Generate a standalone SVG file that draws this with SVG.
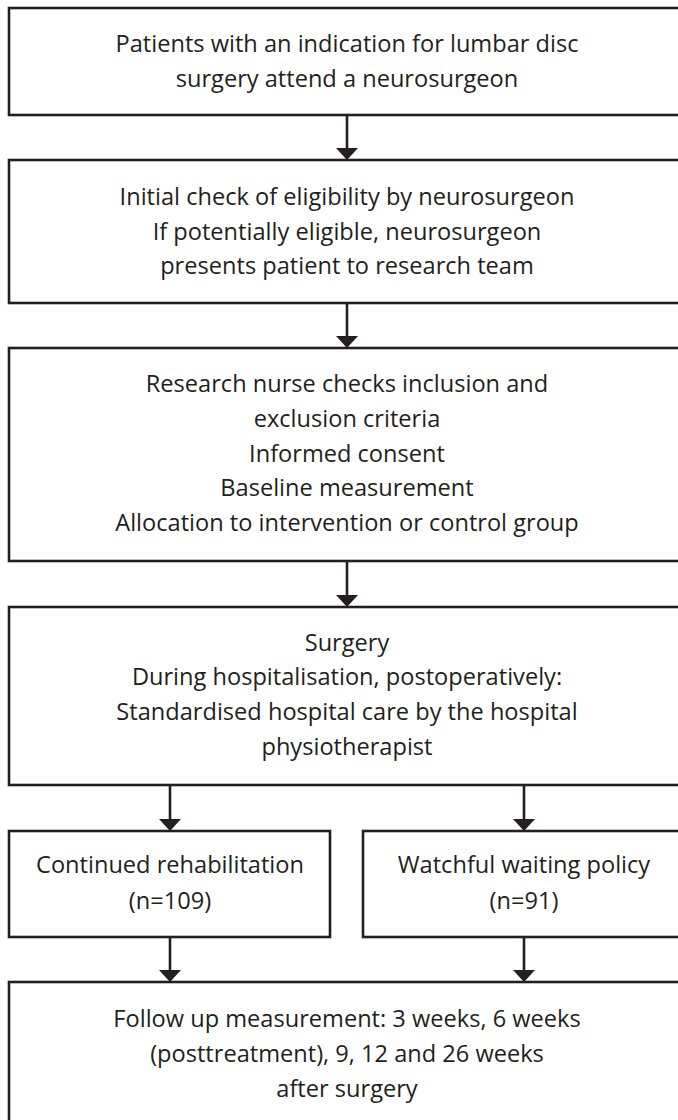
<svg xmlns="http://www.w3.org/2000/svg" width="678" height="1120" viewBox="0 0 678 1120">
<style>
.box{fill:#ffffff;stroke:#231f20;stroke-width:2.6}
.t{font-family:"Open Sans","Liberation Sans",sans-serif;font-size:23.6px;fill:#231f20;text-anchor:middle}
.ln{stroke:#231f20;stroke-width:2.6;fill:none}
.ah{fill:#231f20}
</style>
<rect width="678" height="1120" fill="#ffffff"/>
<g id="connectors">
<line class="ln" x1="347" y1="115" x2="347" y2="150"/><polygon class="ah" points="336,148 358,148 347,160"/>
<line class="ln" x1="347" y1="303" x2="347" y2="338"/><polygon class="ah" points="336,336 358,336 347,348"/>
<line class="ln" x1="347" y1="561" x2="347" y2="597"/><polygon class="ah" points="336,595 358,595 347,607"/>
<line class="ln" x1="170" y1="785" x2="170" y2="821"/><polygon class="ah" points="159,819 181,819 170,831"/>
<line class="ln" x1="524" y1="785" x2="524" y2="821"/><polygon class="ah" points="513,819 535,819 524,831"/>
<line class="ln" x1="170" y1="937" x2="170" y2="972"/><polygon class="ah" points="159,970 181,970 170,982"/>
<line class="ln" x1="524" y1="937" x2="524" y2="972"/><polygon class="ah" points="513,970 535,970 524,982"/>
</g>
<g id="n1">
<rect class="box" x="9" y="8" width="676" height="107"/>
<text class="t" x="347" y="52">Patients with an indication for lumbar disc</text>
<text class="t" x="347" y="87">surgery attend a neurosurgeon</text>
</g>
<g id="n2">
<rect class="box" x="9" y="160" width="676" height="143"/>
<text class="t" x="347" y="205">Initial check of eligibility by neurosurgeon</text>
<text class="t" x="347" y="240">If potentially eligible, neurosurgeon</text>
<text class="t" x="347" y="274">presents patient to research team</text>
</g>
<g id="n3">
<rect class="box" x="9" y="348" width="676" height="213"/>
<text class="t" x="347" y="392">Research nurse checks inclusion and</text>
<text class="t" x="347" y="427">exclusion criteria</text>
<text class="t" x="347" y="462">Informed consent</text>
<text class="t" x="347" y="496">Baseline measurement</text>
<text class="t" x="347" y="531">Allocation to intervention or control group</text>
</g>
<g id="n4">
<rect class="box" x="9" y="607" width="676" height="178"/>
<text class="t" x="347" y="651">Surgery</text>
<text class="t" x="347" y="685">During hospitalisation, postoperatively:</text>
<text class="t" x="347" y="720">Standardised hospital care by the hospital</text>
<text class="t" x="347" y="755">physiotherapist</text>
</g>
<g id="n5">
<rect class="box" x="9" y="831" width="321" height="106"/>
<text class="t" x="170" y="873">Continued rehabilitation</text>
<text class="t" x="170" y="909">(n=109)</text>
</g>
<g id="n6">
<rect class="box" x="363" y="831" width="322" height="106"/>
<text class="t" x="524" y="873">Watchful waiting policy</text>
<text class="t" x="524" y="909">(n=91)</text>
</g>
<g id="n7">
<rect class="box" x="9" y="982" width="676" height="150"/>
<text class="t" x="347" y="1027">Follow up measurement: 3 weeks, 6 weeks</text>
<text class="t" x="347" y="1062">(posttreatment), 9, 12 and 26 weeks</text>
<text class="t" x="347" y="1097">after surgery</text>
</g>
</svg>
